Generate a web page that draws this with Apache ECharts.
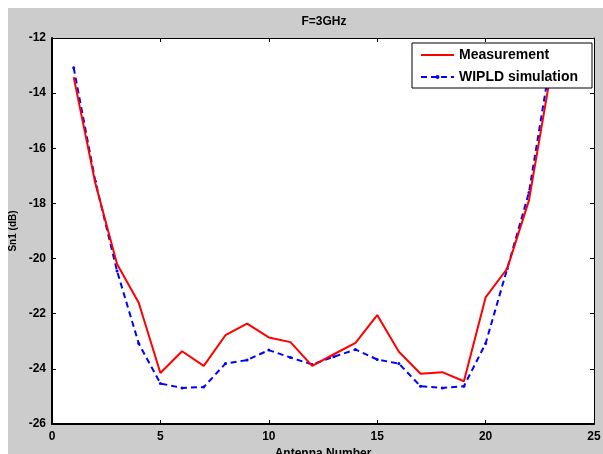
<!DOCTYPE html>
<html>
<head>
<meta charset="utf-8">
<script src="https://cdn.jsdelivr.net/npm/echarts@6/dist/echarts.min.js"></script>
<style>
html,body{margin:0;padding:0;background:#fff;overflow:hidden;}
#bg{position:absolute;left:8px;top:8px;width:595px;height:446px;background:#cccccc;}
#chart{position:absolute;left:0;top:0;width:603px;height:454px;}
</style>
</head>
<body>
<div id="bg"></div>
<div id="chart"></div>
<script>
const antennas = [1,2,3,4,5,6,7,8,9,10,11,12,13,14,15,16,17,18,19,20,21,22,23];
const measurement = [-13.42,-17.27,-20.2,-21.6,-24.15,-23.36,-23.89,-22.78,-22.36,-22.86,-23.03,-23.89,-23.47,-23.06,-22.05,-23.38,-24.18,-24.12,-24.45,-21.41,-20.36,-17.89,-13.3];
const wipld = [-13.08,-17.2,-20.45,-23.08,-24.53,-24.69,-24.66,-23.81,-23.68,-23.32,-23.59,-23.84,-23.56,-23.3,-23.66,-23.81,-24.63,-24.69,-24.63,-23.08,-20.36,-17.6,-12.8];
const titleText = 'F=3GHz';
const xName = 'Antenna Number';
const yName = 'Sn1 (dB)';
const seriesNames = ['Measurement','WIPLD simulation'];

const FONT = '"Liberation Sans", Arial, sans-serif';
const chart = echarts.init(document.getElementById('chart'), null, {renderer:'canvas'});
const pair = (xs, ys) => xs.map((x,i)=>[x, ys[i]]);

const option = {
  backgroundColor: 'transparent',
  animation: false,
  textStyle: {fontFamily: FONT},
  grid: {left: 52, right: 9, top: 38, bottom: 30, show: true, backgroundColor: '#fff', borderWidth: 0, outerBoundsMode: 'none', containLabel: false},
  graphic: [{
    type: 'text', x: 324, y: 22, z: 10,
    style: {text: titleText, align: 'center', verticalAlign: 'middle', font: 'bold 12px ' + FONT, fill: '#000'}
  }],
  xAxis: [{
    type: 'value', min: 0, max: 25, interval: 5,
    name: xName, nameLocation: 'middle', nameGap: 21,
    nameTextStyle: {fontWeight: 'bold', fontSize: 12, color: '#000', fontFamily: FONT},
    axisLine: {show: true, onZero: false, lineStyle: {color: '#000', width: 2}},
    axisTick: {show: true, inside: true, length: 4, lineStyle: {color: '#000'}},
    axisLabel: {color: '#000', fontWeight: 'bold', fontSize: 12, margin: 7, fontFamily: FONT},
    splitLine: {show: false}
  }, {
    type: 'value', min: 0, max: 25, interval: 5, position: 'top',
    axisLine: {show: true, onZero: false, lineStyle: {color: '#000', width: 1}},
    axisTick: {show: true, inside: true, length: 4, lineStyle: {color: '#000'}},
    axisLabel: {show: false}, splitLine: {show: false}
  }],
  yAxis: [{
    type: 'value', min: -26, max: -12, interval: 2,
    name: yName, nameLocation: 'middle', nameGap: 32, nameRotate: 90,
    nameTextStyle: {fontWeight: 'bold', fontSize: 10, color: '#000', fontFamily: FONT},
    axisLine: {show: true, onZero: false, lineStyle: {color: '#000', width: 2}},
    axisTick: {show: true, inside: true, length: 4, lineStyle: {color: '#000'}},
    axisLabel: {color: '#000', fontWeight: 'bold', fontSize: 12, margin: 6, fontFamily: FONT},
    splitLine: {show: false}
  }, {
    type: 'value', min: -26, max: -12, interval: 2, position: 'right',
    axisLine: {show: true, onZero: false, lineStyle: {color: '#000', width: 1}},
    axisTick: {show: true, inside: true, length: 4, lineStyle: {color: '#000'}},
    axisLabel: {show: false}, splitLine: {show: false}
  }],
  legend: {
    orient: 'vertical', left: 412, top: 43,
    backgroundColor: '#fff', borderColor: '#000', borderWidth: 1,
    padding: [4, 14, 3, 8], itemWidth: 33, itemHeight: 5, itemGap: 6,
    textStyle: {fontWeight: 'bold', fontSize: 14, color: '#000', fontFamily: FONT, lineHeight: 16},
    data: [
      {name: seriesNames[0], itemStyle: {opacity: 0}},
      {name: seriesNames[1]}
    ]
  },
  series: [{
    name: seriesNames[0], type: 'line', data: pair(antennas, measurement),
    symbol: 'none', color: '#ff0000', z: 3,
    lineStyle: {color: '#ff0000', width: 2}
  }, {
    name: seriesNames[1], type: 'line', data: pair(antennas, wipld),
    symbol: 'circle', symbolSize: 3, color: '#0000ff', z: 2,
    itemStyle: {color: '#0000ff'},
    lineStyle: {color: '#0000ff', width: 2, type: [6, 4]}
  }]
};
chart.setOption(option);
</script>
</body>
</html>
